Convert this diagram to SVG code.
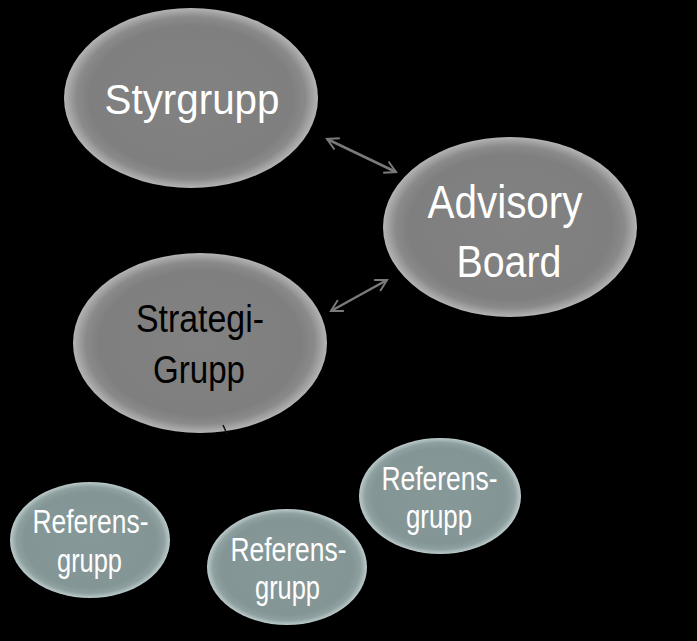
<svg xmlns="http://www.w3.org/2000/svg" width="697" height="641" viewBox="0 0 697 641">
<style>
.big{fill:url(#gBig)}
.ref{fill:url(#gRef)}
.t{font-family:"Liberation Sans",Arial,sans-serif;text-anchor:middle}
.w{fill:#ffffff}
.k{fill:#000000}
.conn{stroke:#7a7a7a;stroke-width:2.5;fill:none}
</style>
<defs>
<radialGradient id="gBig" cx="0.5" cy="0.5" r="0.5">
<stop offset="0" stop-color="#828282"/>
<stop offset="0.8" stop-color="#7f7f7f"/>
<stop offset="0.9" stop-color="#8a8a8a"/>
<stop offset="1" stop-color="#b4b4b4"/>
</radialGradient>
<radialGradient id="gRef" cx="0.5" cy="0.5" r="0.5">
<stop offset="0" stop-color="#879898"/>
<stop offset="0.82" stop-color="#849595"/>
<stop offset="0.92" stop-color="#8fa0a0"/>
<stop offset="1" stop-color="#bccaca"/>
</radialGradient>
<marker id="ah" viewBox="0 0 12 12" refX="10" refY="6" markerWidth="6" markerHeight="6" orient="auto-start-reverse" markerUnits="strokeWidth">
<path d="M1,1 L10,6 L1,11" fill="none" stroke="#7a7a7a" stroke-width="1.6"/>
</marker>
</defs>
<rect width="697" height="641" fill="#000000"/>
<g id="connectors">
<line class="conn" x1="327" y1="139" x2="396" y2="172" marker-start="url(#ah)" marker-end="url(#ah)"/>
<line class="conn" x1="331" y1="311" x2="387" y2="280" marker-start="url(#ah)" marker-end="url(#ah)"/>
</g>
<g id="styrgrupp">
<ellipse class="big" cx="191" cy="98" rx="127" ry="90"/>
<text class="t w" x="192" y="114" font-size="43" textLength="175" lengthAdjust="spacingAndGlyphs">Styrgrupp</text>
</g>
<g id="advisory">
<ellipse class="big" cx="510" cy="227" rx="127" ry="90"/>
<text class="t w" x="505" y="218" font-size="47" textLength="155" lengthAdjust="spacingAndGlyphs">Advisory</text>
<text class="t w" x="509" y="277" font-size="45" textLength="105" lengthAdjust="spacingAndGlyphs">Board</text>
</g>
<g id="strategi">
<ellipse class="big" cx="200" cy="343" rx="127" ry="90"/>
<text class="t k" x="200" y="332" font-size="38" textLength="128" lengthAdjust="spacingAndGlyphs">Strategi-</text>
<text class="t k" x="199" y="383" font-size="38" textLength="92" lengthAdjust="spacingAndGlyphs">Grupp</text>
<line x1="223" y1="425" x2="227" y2="434" stroke="#111" stroke-width="1.5"/>
</g>
<g id="ref1">
<ellipse class="ref" cx="90" cy="540" rx="80" ry="58"/>
<text class="t w" x="90.5" y="533" font-size="33" textLength="116" lengthAdjust="spacingAndGlyphs">Referens-</text>
<text class="t w" x="89.5" y="572" font-size="33" textLength="65" lengthAdjust="spacingAndGlyphs">grupp</text>
</g>
<g id="ref2">
<ellipse class="ref" cx="287" cy="567" rx="80" ry="58"/>
<text class="t w" x="288.5" y="561" font-size="33" textLength="116" lengthAdjust="spacingAndGlyphs">Referens-</text>
<text class="t w" x="287.5" y="599" font-size="33" textLength="65" lengthAdjust="spacingAndGlyphs">grupp</text>
</g>
<g id="ref3">
<ellipse class="ref" cx="440" cy="496" rx="81" ry="58"/>
<text class="t w" x="439.5" y="490" font-size="33" textLength="116" lengthAdjust="spacingAndGlyphs">Referens-</text>
<text class="t w" x="439" y="528" font-size="33" textLength="66" lengthAdjust="spacingAndGlyphs">grupp</text>
</g>
</svg>
